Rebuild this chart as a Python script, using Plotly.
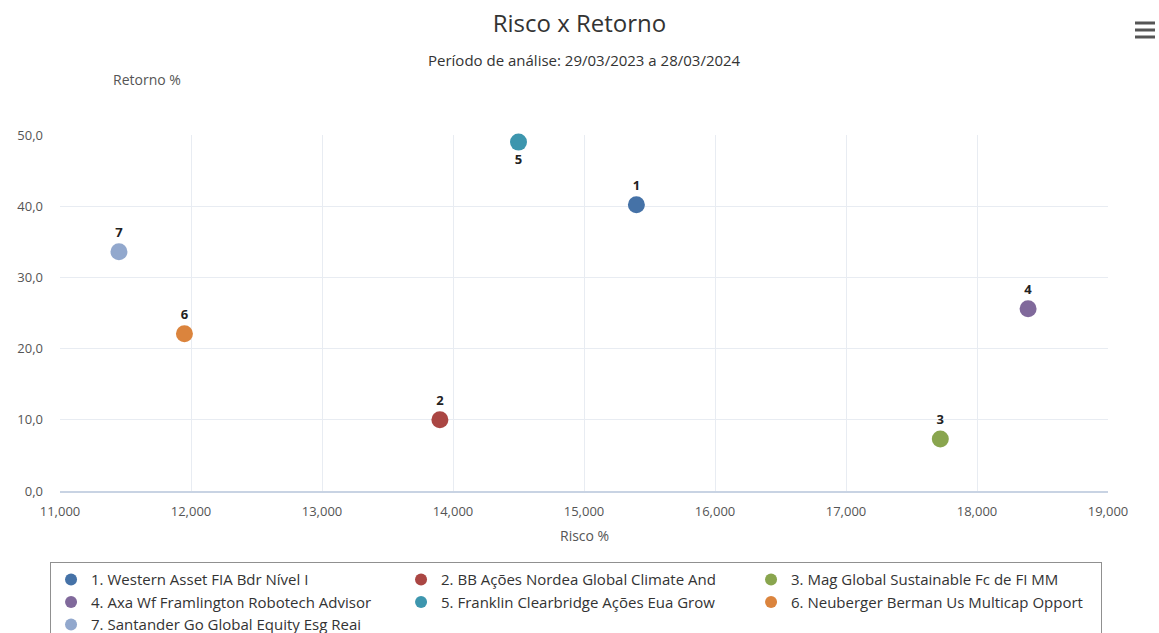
import plotly.graph_objects as go

labels = ["1", "2", "3", "4", "5", "6", "7"]
names = [
    "1. Western Asset FIA Bdr Nível I",
    "2. BB Ações Nordea Global Climate And",
    "3. Mag Global Sustainable Fc de FI MM",
    "4. Axa Wf Framlington Robotech Advisor",
    "5. Franklin Clearbridge Ações Eua Grow",
    "6. Neuberger Berman Us Multicap Opport",
    "7. Santander Go Global Equity Esg Reai",
]
risco = [15.40, 13.90, 17.72, 18.39, 14.50, 11.95, 11.45]
retorno = [40.2, 10.0, 7.3, 25.6, 49.0, 22.1, 33.6]
colors = ["#4572A7", "#AA4643", "#89A54E", "#80699B", "#3D96AE", "#DB843D", "#92A8CD"]
label_pos = ["top center", "top center", "top center", "top center",
             "bottom center", "top center", "top center"]

FONT = "Open Sans, Lato, sans-serif"

fig = go.Figure()
for i in range(len(names)):
    fig.add_trace(go.Scatter(
        x=[risco[i]], y=[retorno[i]],
        mode="markers+text",
        name=names[i],
        text=[labels[i]],
        textposition=label_pos[i],
        textfont=dict(family=FONT, size=13, color="#222222", weight="bold"),
        marker=dict(size=17, color=colors[i], line=dict(width=0)),
        cliponaxis=False,
        hovertemplate="Risco: %{x:.3f}<br>Retorno: %{y:.1f}<extra>" + names[i] + "</extra>",
    ))

fig.update_layout(
    width=1159, height=633,
    paper_bgcolor="white", plot_bgcolor="white",
    separators=",.",
    font=dict(family=FONT, size=13, color="#555555"),
    margin=dict(l=60, r=51, t=135, b=142, autoexpand=False),
    title=dict(text="Risco x Retorno", x=0.5, xanchor="center", y=0.962, yanchor="middle",
               font=dict(family=FONT, size=24, color="#333333")),
    xaxis=dict(range=[11, 19], tickvals=[11, 12, 13, 14, 15, 16, 17, 18, 19],
               tickformat=".3f", showgrid=True, gridcolor="#E8ECF2", gridwidth=1,
               zeroline=False, showline=True, linecolor="#C8D3E3", linewidth=2,
               ticks="", ticklabelstandoff=7, tickfont=dict(size=13, color="#555555")),
    yaxis=dict(range=[0, 50], tickvals=[0, 10, 20, 30, 40, 50], tickformat=".1f",
               showgrid=True, gridcolor="#E8ECF2", gridwidth=1, zeroline=False,
               showline=False, ticks="", ticklabelstandoff=16,
               tickfont=dict(size=13, color="#555555")),
    showlegend=True,
    legend=dict(orientation="h", x=-0.0095, xanchor="left", y=-0.2, yanchor="top",
                bordercolor="#909090", borderwidth=1, bgcolor="white",
                entrywidth=305, entrywidthmode="pixels", tracegroupgap=0,
                itemsizing="constant",
                font=dict(family=FONT, size=15, color="#333333")),
)

fig.add_annotation(text="Período de análise: 29/03/2023 a 28/03/2024", xref="paper", yref="paper",
                   x=0.5, y=(633 - 60 - 142) / 356.0, xanchor="center", yanchor="middle",
                   showarrow=False, font=dict(family=FONT, size=15, color="#333333"))
fig.add_annotation(text="Retorno %", xref="paper", yref="paper",
                   x=(147 - 60) / 1048.0, y=(633 - 79 - 142) / 356.0, xanchor="center", yanchor="middle",
                   showarrow=False, font=dict(family=FONT, size=14, color="#555555"))
fig.add_annotation(text="Risco %", xref="paper", yref="paper",
                   x=0.5, y=-(535 - 491) / 356.0, xanchor="center", yanchor="middle",
                   showarrow=False, font=dict(family=FONT, size=14, color="#555555"))

# hamburger export menu icon
for yy in [23, 30, 37]:
    fig.add_shape(type="line", xref="paper", yref="paper",
                  x0=(1135 - 60) / 1048.0, x1=(1155 - 60) / 1048.0,
                  y0=(633 - yy - 142) / 356.0, y1=(633 - yy - 142) / 356.0,
                  line=dict(color="#555555", width=3))

fig.write_html("out.html")
